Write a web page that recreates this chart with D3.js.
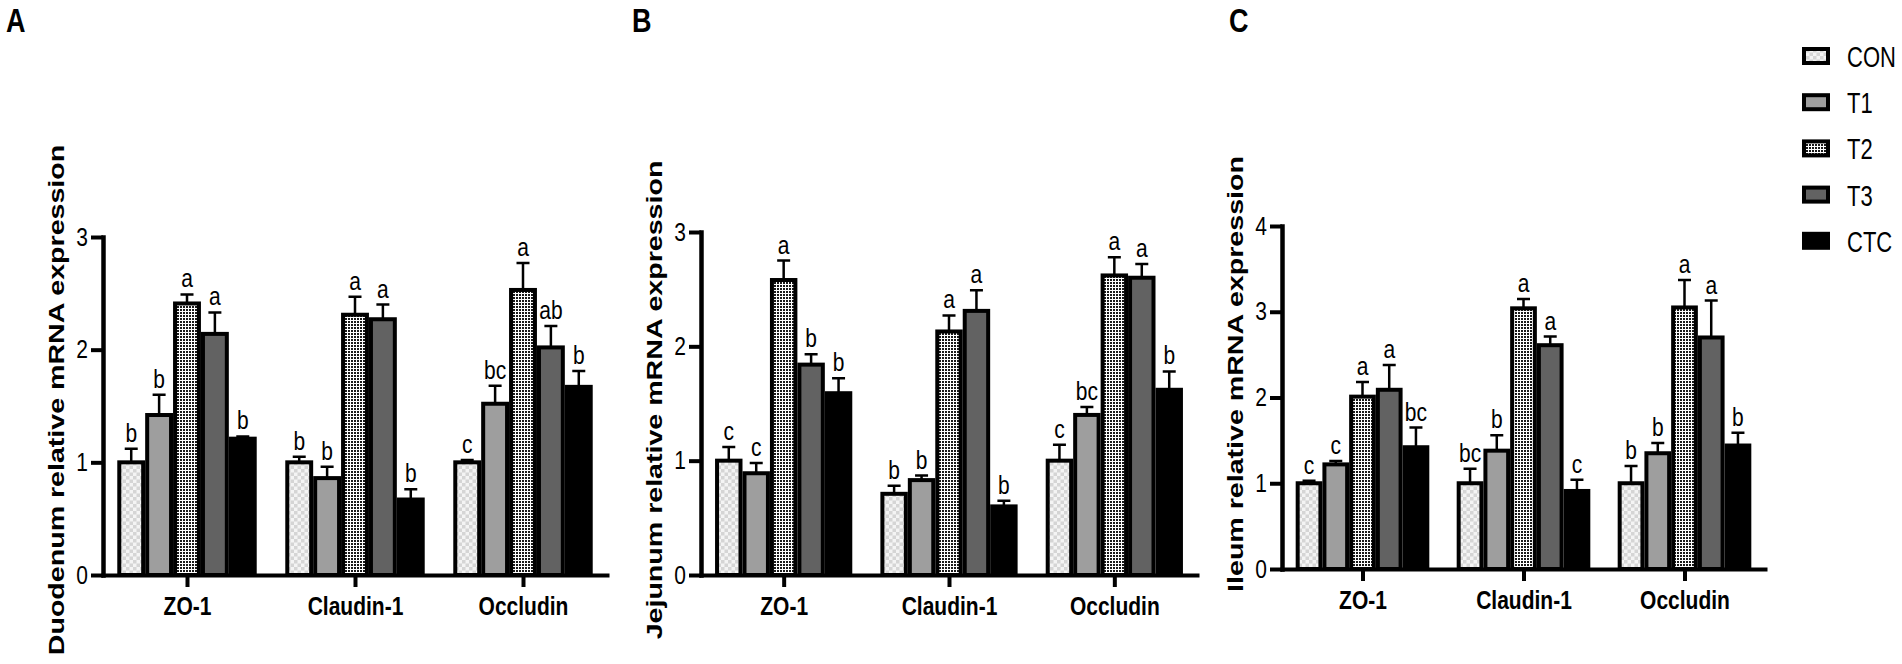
<!DOCTYPE html>
<html>
<head>
<meta charset="utf-8">
<script src="https://cdn.jsdelivr.net/npm/d3@7"></script>
<style>
  body { margin: 0; background: #fff; }
  svg { display: block; }
  text { font-family: "Liberation Sans", Arial, sans-serif; fill: #000; }
</style>
</head>
<body>
<svg id="chart" width="1902" height="664"></svg>
<script>
// groups and genes
const groups = ["CON", "T1", "T2", "T3", "CTC"];
const genes = ["ZO-1", "Claudin-1", "Occludin"];

// A - duodenum (rows = genes, cols = groups)
const duodenumMean = [
    [1.00, 1.42, 2.41, 2.14, 1.21],
    [1.00, 0.86, 2.31, 2.27, 0.67],
    [1.00, 1.52, 2.53, 2.02, 1.67]
];
const duodenumSem = [
    [0.12, 0.18, 0.08, 0.19, 0.02],
    [0.05, 0.10, 0.16, 0.13, 0.09],
    [0.02, 0.16, 0.24, 0.19, 0.14]
];
const duodenumLetters = [
    ["b", "b", "a", "a", "b"],
    ["b", "b", "a", "a", "b"],
    ["c", "bc", "a", "ab", "b"]
];

// B - jejunum
const jejunumMean = [
    [1.00, 0.89, 2.58, 1.84, 1.59],
    [0.71, 0.83, 2.13, 2.31, 0.60],
    [1.00, 1.40, 2.62, 2.60, 1.62]
];
const jejunumSem = [
    [0.12, 0.09, 0.17, 0.09, 0.13],
    [0.07, 0.04, 0.14, 0.18, 0.05],
    [0.14, 0.07, 0.16, 0.12, 0.16]
];
const jejunumLetters = [
    ["c", "c", "a", "b", "b"],
    ["b", "b", "a", "a", "b"],
    ["c", "bc", "a", "a", "b"]
];

// C - ileum
const ileumMean = [
    [1.00, 1.22, 2.01, 2.09, 1.42],
    [1.00, 1.38, 3.04, 2.61, 0.91],
    [1.00, 1.35, 3.05, 2.70, 1.44]
];
const ileumSem = [
    [0.03, 0.04, 0.17, 0.29, 0.23],
    [0.17, 0.18, 0.11, 0.10, 0.13],
    [0.20, 0.12, 0.32, 0.43, 0.15]
];
const ileumLetters = [
    ["c", "c", "a", "a", "bc"],
    ["bc", "b", "a", "a", "c"],
    ["b", "b", "a", "a", "b"]
];

const ticks3 = [0, 1, 2, 3];
const ticks4 = [0, 1, 2, 3, 4];

const svg = d3.select("#chart");
const defs = svg.append("defs");

// light checker for CON
const pCon = defs.append("pattern").attr("id", "pat-con")
    .attr("patternUnits", "userSpaceOnUse").attr("width", 7).attr("height", 7);
pCon.append("rect").attr("width", 7).attr("height", 7).attr("fill", "#f4f4f4");
pCon.append("rect").attr("width", 3.5).attr("height", 3.5).attr("fill", "#d5d5d5");
pCon.append("rect").attr("x", 3.5).attr("y", 3.5).attr("width", 3.5).attr("height", 3.5).attr("fill", "#d5d5d5");

// dark dots on white for T2
const pT2 = defs.append("pattern").attr("id", "pat-t2")
    .attr("patternUnits", "userSpaceOnUse").attr("width", 3).attr("height", 3);
pT2.append("rect").attr("width", 3).attr("height", 3).attr("fill", "#ffffff");
pT2.append("rect").attr("width", 2).attr("height", 2).attr("fill", "#1a1a1a");

const fills = {
    CON: "url(#pat-con)",
    T1: "#9e9e9e",
    T2: "url(#pat-t2)",
    T3: "#626262",
    CTC: "#000000"
};

// text that is a bit taller than wide, like the original figure
function tallText(g, x, y, str, size, weight, anchor, sy) {
    return g.append("text")
        .attr("transform", `translate(${x},${y}) scale(1,${sy || 1.25})`)
        .attr("text-anchor", anchor || "start")
        .style("font-size", size + "px")
        .style("font-weight", weight || "normal")
        .text(str);
}

const panels = [
    {tag: "A", title: "Duodenum relative mRNA expression",
     mean: duodenumMean, sem: duodenumSem, letters: duodenumLetters, ticks: ticks3,
     x0: 103, width: 504, yBase: 575, yTop: 237, tagX: 6, titleX: 64, titleY: 400},
    {tag: "B", title: "Jejunum relative mRNA expression",
     mean: jejunumMean, sem: jejunumSem, letters: jejunumLetters, ticks: ticks3,
     x0: 701, width: 496, yBase: 575, yTop: 232, tagX: 632, titleX: 662, titleY: 400},
    {tag: "C", title: "Ileum relative mRNA expression",
     mean: ileumMean, sem: ileumSem, letters: ileumLetters, ticks: ticks4,
     x0: 1282, width: 483, yBase: 569, yTop: 226, tagX: 1229, titleX: 1243, titleY: 374}
];

panels.forEach(p => {
    const g = svg.append("g");

    const x = d3.scalePoint().domain(genes).range([p.x0, p.x0 + p.width]).padding(0.5);
    const barW = x.step() * 0.166;
    const sub = d3.scaleBand().domain(groups).range([-2.5 * barW, 2.5 * barW]);
    const y = d3.scaleLinear().domain([0, d3.max(p.ticks)]).range([p.yBase, p.yTop]);

    // flatten for drawing
    const rows = [];
    genes.forEach((gene, i) => {
        groups.forEach((grp, j) => {
            rows.push({gene: gene, grp: grp, mean: p.mean[i][j], sem: p.sem[i][j], letter: p.letters[i][j]});
        });
    });
    const cx = d => x(d.gene) + sub(d.grp) + sub.bandwidth() / 2;

    // error bars (upper only)
    g.selectAll(".err").data(rows).enter().append("path")
        .attr("d", d => {
            const c = cx(d), t = y(d.mean + d.sem);
            return `M${c},${y(d.mean)}V${t}M${c - 6.5},${t}H${c + 6.5}`;
        })
        .attr("fill", "none").attr("stroke", "#000").attr("stroke-width", 2.5);

    // bars
    g.selectAll(".bar").data(rows).enter().append("rect")
        .attr("x", d => x(d.gene) + sub(d.grp) + 2)
        .attr("width", sub.bandwidth() - 4)
        .attr("y", d => y(d.mean))
        .attr("height", d => p.yBase - y(d.mean))
        .attr("fill", d => fills[d.grp])
        .attr("stroke", "#000").attr("stroke-width", 4);

    // significance letters
    rows.forEach(d => {
        tallText(g, cx(d), y(d.mean + d.sem) - 7, d.letter, 21, "normal", "middle", 1.2);
    });

    // y axis
    const yAxis = g.append("g")
        .attr("transform", `translate(${p.x0},0)`)
        .call(d3.axisLeft(y).tickValues(p.ticks).tickSize(12).tickSizeOuter(0).tickFormat(d3.format("d")));
    yAxis.select(".domain").attr("stroke-width", 4.5).attr("stroke-linecap", "square");
    yAxis.selectAll(".tick line").attr("stroke-width", 4);
    yAxis.selectAll(".tick text")
        .attr("x", -15).attr("dy", "0.32em")
        .attr("transform", "scale(1,1.2)")
        .style("font-size", "21px").style("font-family", "'Liberation Sans', Arial, sans-serif");

    // x axis
    const xAxis = g.append("g")
        .attr("transform", `translate(0,${p.yBase})`)
        .call(d3.axisBottom(x).tickSize(12).tickSizeOuter(0));
    xAxis.select(".domain").attr("stroke-width", 4).attr("stroke-linecap", "square");
    xAxis.selectAll(".tick line").attr("stroke-width", 4);
    xAxis.selectAll(".tick text")
        .attr("y", 0).attr("dy", null)
        .attr("transform", "translate(0,40) scale(1,1.25)")
        .style("font-size", "21px").style("font-weight", "bold")
        .style("font-family", "'Liberation Sans', Arial, sans-serif");

    // y title
    g.append("text")
        .attr("transform", `translate(${p.titleX},${p.titleY}) rotate(-90) scale(1.3,1)`)
        .attr("text-anchor", "middle")
        .style("font-size", "22px").style("font-weight", "bold")
        .text(p.title);

    // panel tag
    tallText(g, p.tagX, 32, p.tag, 27, "bold", "start", 1.25);
});

// legend
const legend = svg.append("g");
groups.forEach((grp, j) => {
    const cy = 56 + j * 46.2;
    legend.append("rect")
        .attr("x", 1804).attr("y", cy - 7)
        .attr("width", 24).attr("height", 14)
        .attr("fill", fills[grp]).attr("stroke", "#000").attr("stroke-width", 4);
    tallText(legend, 1847, cy + 11, grp, 22, "normal", "start", 1.3);
});
</script>
</body>
</html>
